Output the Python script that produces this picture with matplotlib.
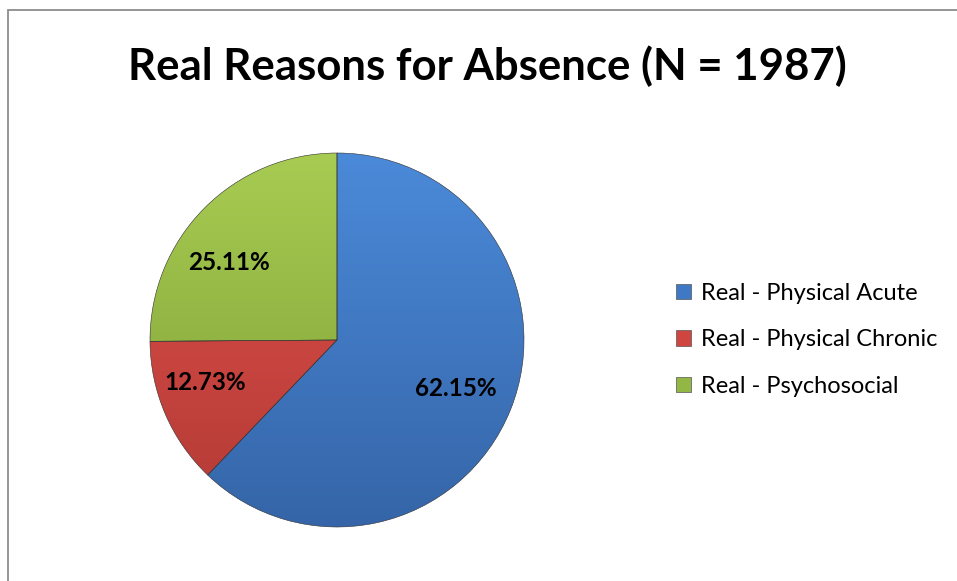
import numpy as np
from matplotlib import pyplot as plt
from matplotlib import colors as mcolors
from matplotlib.patches import Rectangle

# data
labels = ['Real - Physical Acute', 'Real - Physical Chronic', 'Real - Psychosocial']
values = [62.15, 12.73, 25.11]
title = 'Real Reasons for Absence (N = 1987)'
top_cols = ['#4b8ad9', '#e2504b', '#a8cc52']
bot_cols = ['#3565a8', '#b23a35', '#7c9c35']
mid_cols = ['#3f78c4', '#cf4540', '#93b744']
# where Excel put the % labels (fraction of radius)
label_pos = [(0.636, -0.262), (-0.706, -0.225), (-0.578, 0.417)]

plt.rcParams['font.family'] = ['Lato', 'DejaVu Sans']

fig = plt.figure(figsize=(9.57, 5.81), dpi=100)
W, H = 957, 581

# chart border (runs past right/bottom edge)
fig.patches.append(Rectangle((8 / W, -0.1), 1.2, 1 - 10 / H + 0.1, transform=fig.transFigure,
                             fill=False, edgecolor='#8c8c8c', linewidth=1.3))

fig.text(487 / W, 1 - 66 / H, title, ha='center', va='center', fontsize=31.5, fontweight='bold')

cx, cy, r = 337, 340, 187
ax = fig.add_axes([(cx - r) / W, (H - cy - r) / H, 2 * r / W, 2 * r / H])
total = sum(values)
wedges, texts, autotexts = ax.pie(values, colors=mid_cols, startangle=90, counterclock=False,
                                  autopct=lambda p: '%.2f%%' % (p * total / 100), pctdistance=0.7,
                                  wedgeprops=dict(edgecolor='#2f2f2f', linewidth=0.4),
                                  textprops=dict(fontsize=17.5, fontweight='bold'))
ax.set_aspect('equal')
ax.axis('off')

# gradient fill clipped to each wedge
yy = np.linspace(1, 0, 256).reshape(-1, 1) * np.ones((1, 2))
for w, c1, c2 in zip(wedges, top_cols, bot_cols):
    cmap = mcolors.LinearSegmentedColormap.from_list('g', [c2, c1])
    im = ax.imshow(yy, cmap=cmap, extent=(-1, 1, -1, 1), origin='upper', zorder=1.5, aspect='auto')
    im.set_clip_path(w)
    w.set_facecolor('none')
    w.set_zorder(2)
for t, pos in zip(autotexts, label_pos):
    t.set_position(pos)
    t.set_zorder(3)

ax.set_xlim(-1, 1)
ax.set_ylim(-1, 1)

handles = [Rectangle((0, 0), 1, 1, facecolor=c, edgecolor='#555555', linewidth=0.5) for c in mid_cols]
fig.legend(handles, labels, loc='center left', bbox_to_anchor=(667 / W, 1 - 340 / H),
           frameon=False, fontsize=17, handlelength=0.63, handleheight=0.63,
           handletextpad=0.4, labelspacing=1.08, borderaxespad=0)

plt.savefig('out.png', dpi=100)
